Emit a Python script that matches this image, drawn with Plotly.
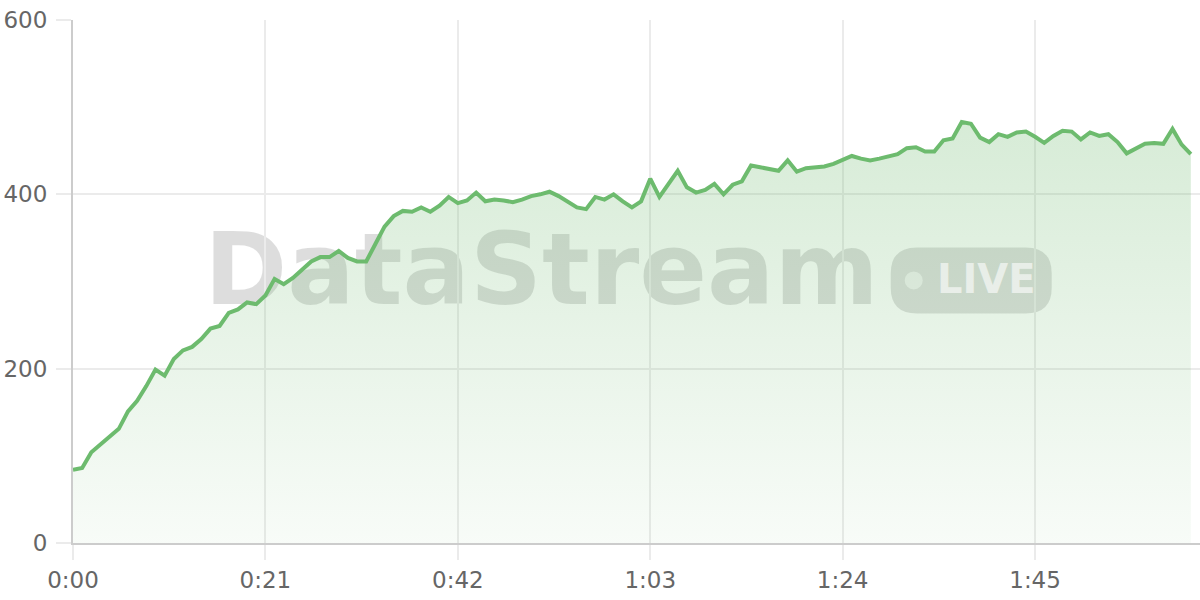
import plotly.graph_objects as go

# данные: секунды от начала и значение потока
seconds = list(range(123))
values = [
    84, 86, 104, 113, 123, 131, 151, 163, 180, 199,
    192, 211, 221, 225, 234, 246, 249, 264, 268, 276,
    274, 284, 303, 297, 304, 314, 323, 328, 328, 335,
    327, 323, 323, 343, 363, 375, 381, 380, 385, 380,
    387, 397, 390, 393, 402, 392, 394, 393, 391, 394,
    398, 400, 403, 398, 392, 385, 383, 397, 394, 400,
    392, 385, 392, 418, 397, 413, 427, 408, 402, 405,
    412, 400, 411, 415, 433, 431, 429, 427, 439, 426,
    430, 431, 432, 435, 439, 444, 441, 439, 441, 443,
    446, 453, 454, 449, 449, 462, 464, 483, 481, 465,
    460, 469, 466, 471, 472, 466, 459, 467, 473, 472,
    463, 471, 467, 469, 460, 447, 452, 458, 459, 458,
    475, 457, 446,
]

x_tickvals = [0, 21, 42, 63, 84, 105]
x_ticktext = ["0:00", "0:21", "0:42", "1:03", "1:24", "1:45"]
y_tickvals = [0, 200, 400, 600]

line_color = "#6dbb6e"
grid_color = "#ebebeb"
axis_color = "#cccccc"

fig = go.Figure()

# заливка с вертикальным градиентом
fig.add_trace(go.Scatter(
    x=seconds,
    y=values,
    mode="lines",
    line=dict(width=0, color=line_color),
    fill="tozeroy",
    fillgradient=dict(
        type="vertical",
        start=0,
        stop=490,
        colorscale=[[0, "rgba(110,185,110,0.05)"], [1, "rgba(110,185,110,0.28)"]],
    ),
    hoverinfo="skip",
    showlegend=False,
))

# сама линия
fig.add_trace(go.Scatter(
    x=seconds,
    y=values,
    mode="lines",
    line=dict(width=4, color=line_color),
    showlegend=False,
))

# водяной знак: текст и плашка LIVE (под трассами)
wm_color = "rgba(0,0,0,0.135)"
fig.add_shape(
    type="rect", xref="paper", yref="paper",
    x0=0.2157, x1=0.6157, y0=0.4355, y1=0.6355,
    line=dict(width=0), fillcolor="rgba(0,0,0,0)", layer="between",
    label=dict(
        text="DataStream",
        textposition="middle center",
        font=dict(family="DejaVu Sans", size=100, color=wm_color, weight=700),
    ),
)

badge_path = (
    "M -54.5,-33 L 54.5,-33 Q 80.5,-33 80.5,-7 L 80.5,7 Q 80.5,33 54.5,33 "
    "L -54.5,33 Q -80.5,33 -80.5,7 L -80.5,-7 Q -80.5,-33 -54.5,-33 Z"
)
fig.add_shape(
    type="path", xref="paper", yref="paper",
    xsizemode="pixel", ysizemode="pixel",
    xanchor=0.797, yanchor=0.502,
    path=badge_path,
    line=dict(width=0), fillcolor="rgba(0,0,0,0.13)", layer="between",
)
fig.add_shape(
    type="circle", xref="paper", yref="paper",
    xsizemode="pixel", ysizemode="pixel",
    xanchor=0.797, yanchor=0.502,
    x0=-66.5, x1=-48.5, y0=-9, y1=9,
    line=dict(width=0), fillcolor="rgba(255,255,255,0.6)", layer="between",
)
fig.add_annotation(
    text="LIVE", xref="paper", yref="paper",
    x=0.811, y=0.505, xanchor="center", yanchor="middle",
    showarrow=False,
    font=dict(family="DejaVu Sans", size=40, color="rgba(255,255,255,0.6)", weight=700),
)

fig.update_layout(
    width=1200,
    height=600,
    margin=dict(l=73, r=0, t=20, b=57),
    paper_bgcolor="white",
    plot_bgcolor="white",
    font=dict(family="DejaVu Sans", size=23, color="#666666"),
)

fig.update_xaxes(
    range=[0, 123],
    tickvals=x_tickvals,
    ticktext=x_ticktext,
    showgrid=True,
    gridcolor=grid_color,
    gridwidth=1.5,
    ticks="outside",
    ticklen=15,
    tickcolor=grid_color,
    tickwidth=1.5,
    showline=True,
    linecolor=axis_color,
    linewidth=2,
    zeroline=False,
)

fig.update_yaxes(
    range=[0, 600],
    tickvals=y_tickvals,
    showgrid=True,
    gridcolor=grid_color,
    gridwidth=1.5,
    ticks="outside",
    ticklen=15,
    tickcolor=grid_color,
    tickwidth=1.5,
    showline=True,
    linecolor=axis_color,
    linewidth=2,
    zeroline=False,
    ticklabelstandoff=4,
)

# убираем отступ body, чтобы график стоял в углу окна
fig.write_html(
    "out.html",
    config={"displayModeBar": False},
    post_script="document.body.style.margin='0';",
)
